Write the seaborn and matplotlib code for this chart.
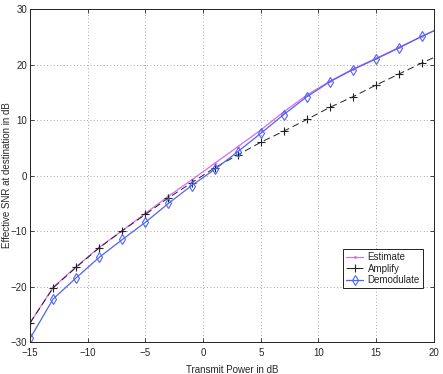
import numpy as np
import pandas as pd
import matplotlib
matplotlib.use("Agg")
import matplotlib.pyplot as plt
import seaborn as sns

# Transmit power (dB); last point lies past the axis edge and is clipped
power_db = [-15, -13, -11, -9, -7, -5, -3, -1, 1, 3, 5, 7, 9, 11, 13, 15, 17, 19, 21]

snr_estimate = [-26.5, -20.1, -16.4, -12.9, -9.9, -6.8, -3.7, -0.8, 2.2, 5.2,
                8.2, 11.5, 14.5, 17.0, 19.2, 21.1, 23.1, 25.1, 27.0]
snr_amplify = [-26.5, -20.2, -16.5, -13.0, -9.9, -7.0, -4.0, -1.3, 1.4, 3.7,
               6.0, 8.0, 10.1, 12.3, 14.2, 16.3, 18.3, 20.3, 22.2]
snr_demodulate = [-29.3, -22.2, -18.4, -14.7, -11.5, -8.4, -5.0, -1.8, 1.1, 4.3,
                  7.6, 11.0, 14.2, 16.9, 19.1, 21.0, 23.0, 25.1, 27.0]

sns.set_style("ticks")
plt.rcParams["font.family"] = ["Liberation Sans", "DejaVu Sans"]
plt.rcParams["font.size"] = 7

fig = plt.figure(figsize=(4.43, 3.74), dpi=100)
ax = fig.add_axes([0.068, 0.085, 0.911, 0.891])

sns.lineplot(x=power_db, y=snr_estimate, ax=ax, color="#d46cf5", linewidth=0.9,
             marker=".", markersize=3, markeredgewidth=0.5,
             markeredgecolor="#d46cf5", label="Estimate")
sns.lineplot(x=power_db, y=snr_amplify, ax=ax, color="#222222", linewidth=0.7,
             marker="+", markersize=5.5, markeredgewidth=0.8,
             markeredgecolor="#222222", linestyle=(0, (7, 4)), label="Amplify")
sns.lineplot(x=power_db, y=snr_demodulate, ax=ax, color="#4f63f7", linewidth=0.9,
             marker="d", markersize=4.8, markerfacecolor="none",
             markeredgecolor="#4f63f7", markeredgewidth=0.8, label="Demodulate")

ax.set_xlim(-15, 20)
ax.set_ylim(-30, 30)
ax.set_xticks(np.arange(-15, 21, 5))
ax.set_yticks(np.arange(-30, 31, 10))
ax.set_xticklabels(["\u221215", "\u221210", "\u22125", "0", "5", "10", "15", "20"])
ax.set_yticklabels(["\u221230", "\u221220", "\u221210", "0", "10", "20", "30"])
ax.tick_params(direction="in", length=3, width=0.6, pad=2, labelsize=7,
               top=True, right=True)
ax.tick_params(axis="x", pad=4)
ax.grid(True, linestyle=(0, (1, 3)), color="#888888", linewidth=0.6)
for sp in ax.spines.values():
    sp.set_linewidth(0.7)
    sp.set_color("#222222")

ax.set_xlabel("Transmit Power in dB", fontsize=7, labelpad=5)
ax.set_ylabel("Effective SNR at destination in dB", fontsize=7)
ax.yaxis.set_label_coords(-0.045, 0.5)

leg = ax.legend(loc="lower right", bbox_to_anchor=(0.973, 0.162), fontsize=7,
                frameon=True, fancybox=False, framealpha=1, edgecolor="#222222",
                handlelength=1.7, handletextpad=0.5, borderpad=0.3,
                labelspacing=0.15, borderaxespad=0)
leg.get_frame().set_linewidth(0.7)

fig.savefig("out.png", dpi=100)
